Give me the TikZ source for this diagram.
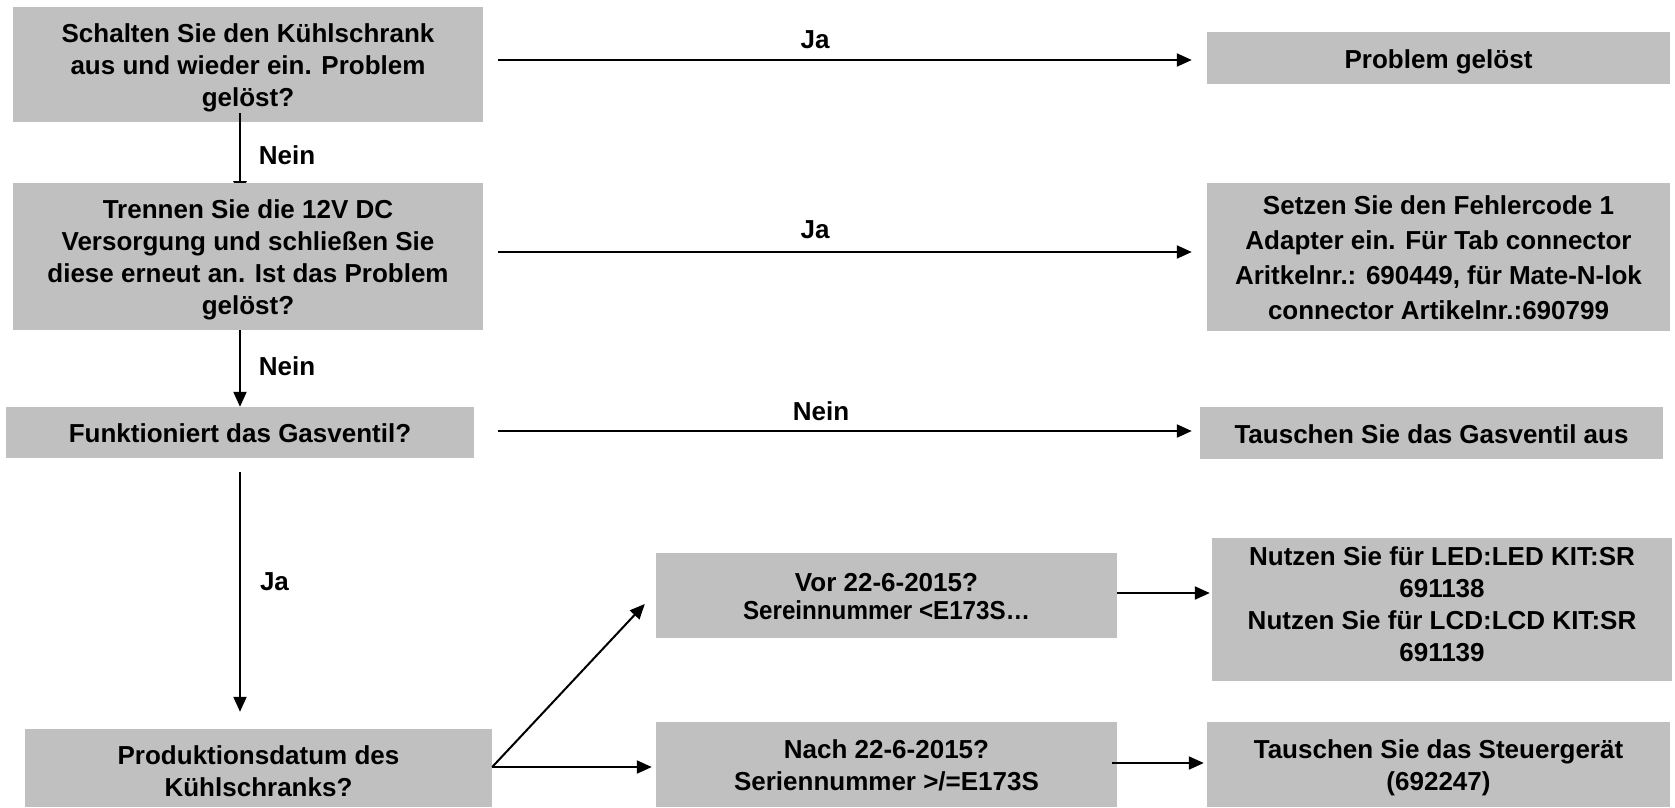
\documentclass[tikz,border=0pt]{standalone}
\usepackage{fontspec}
\usepackage{graphicx}
\setmainfont{Liberation Sans}
\usetikzlibrary{calc,arrows.meta}
\definecolor{boxgray}{HTML}{C0C0C0}
\newcommand{\tstrut}{\rule{0pt}{28pt}}
\newcommand{\bstrut}[1][8]{\rule[-#1pt]{0pt}{#1pt}}
\tikzset{
  box/.style={fill=boxgray, draw=none, inner sep=0pt, align=center, text=black,
    font=\fontsize{26}{32}\selectfont\bfseries},
  lbl/.style={inner sep=0pt, text=black, font=\fontsize{26}{32}\selectfont\bfseries},
  arr/.style={line width=2pt, draw=black, -{Triangle[length=15pt,width=13pt]}}
}
\begin{document}
\begin{tikzpicture}[x=1pt,y=-1pt]
\useasboundingbox (0,0) rectangle (1675,807);
% column 1
\node[box, minimum width=470, minimum height=115] (b1) at (248,64.5)
  {\tstrut Schalten Sie den Kühlschrank\\aus und wieder ein. Problem\\gelöst?\bstrut};
\draw[arr] ($(b1.south)+(-8,-9)$) -- ($(b1.south)+(-8,74)$) coordinate (v1end);
\node[box, minimum width=470, minimum height=147] (b2) at (248,256.5)
  {\tstrut Trennen Sie die 12V DC\\Versorgung und schließen Sie\\diese erneut an. Ist das Problem\\gelöst?\bstrut};
\node[box, minimum width=468, minimum height=51] (b3) at (240,432.5)
  {\tstrut Funktioniert das Gasventil?\bstrut};
\node[box, minimum width=467, minimum height=78] (b4) at (258.5,768)
  {\tstrut Produktionsdatum des\\Kühlschranks?\bstrut[2.7]};
% right column
\node[box, minimum width=463, minimum height=52] (r1) at (1438.5,58)
  {\tstrut Problem gelöst\bstrut};
\node[box, font=\fontsize{26}{35}\selectfont\bfseries, minimum width=463, minimum height=148] (r2) at (1438.5,257)
  {\tstrut Setzen Sie den Fehlercode 1\\Adapter ein. Für Tab connector\\Aritkelnr.: 690449, für Mate-N-lok\\connector Artikelnr.:690799\bstrut};
\node[box, minimum width=463, minimum height=52] (r3) at (1431.5,433)
  {\tstrut Tauschen Sie das Gasventil aus\bstrut};
\node[box, minimum width=460, minimum height=135] (r4) at (1442,609.5)
  {\tstrut Nutzen Sie für LED:LED KIT:SR\\691138\\Nutzen Sie für LCD:LCD KIT:SR\\691139\bstrut[19.3]};
\node[box, minimum width=463, minimum height=85] (r5) at (1438.5,764.5)
  {\tstrut Tauschen Sie das Steuergerät\\(692247)\bstrut};
% middle
\node[box, font=\fontsize{26}{28}\selectfont\bfseries, minimum width=461, minimum height=85] (vor) at (886.5,595.5)
  {\tstrut Vor 22-6-2015?\\\scalebox{0.93}[1]{Sereinnummer <E173S…}\bstrut};
\node[box, minimum width=461, minimum height=85] (nach) at (886.5,764.5)
  {\tstrut Nach 22-6-2015?\\Seriennummer >/=E173S\bstrut};
% connectors
\draw[arr] ($(b2.south)+(-8,0)$) -- (b3.north);
\draw[arr] ($(b3.south)+(0,14)$) -- ($(b4.north)+(-18.5,-17)$);
\draw[arr, shorten >=15pt] ($(b1.east)+(15,-4.5)$) coordinate (s1) -- (s1 -| r1.west);
\draw[arr, shorten >=15pt] ($(b2.east)+(15,-4.5)$) coordinate (s2) -- (s2 -| r2.west);
\draw[arr, shorten >=8pt] ($(b3.east)+(24,-1.5)$) coordinate (s3) -- (s3 -| r3.west);
\draw[arr] ($(b4.east)+(0,-1)$) -- ($(vor.west)+(-11,8.5)$);
\draw[arr, shorten >=4pt] ($(b4.east)+(0,-1)$) coordinate (s4) -- (s4 -| nach.west);
\draw[arr, shorten >=2pt] ($(vor.east)+(0,-2.5)$) coordinate (s5) -- (s5 -| r4.west);
\draw[arr, shorten >=3pt] ($(nach.east)+(-5,-1.5)$) coordinate (s6) -- (s6 -| r5.west);
% labels
\node[lbl] (l1) at (815,39.5) {Ja};
\node[lbl] (l2) at (815,230) {Ja};
\node[lbl] (l3) at (821,411) {Nein};
\node[lbl] (l4) at (287,155) {Nein};
\node[lbl] (l5) at (287,366) {Nein};
\node[lbl] (l6) at (274.5,582) {Ja};
\end{tikzpicture}
\end{document}
